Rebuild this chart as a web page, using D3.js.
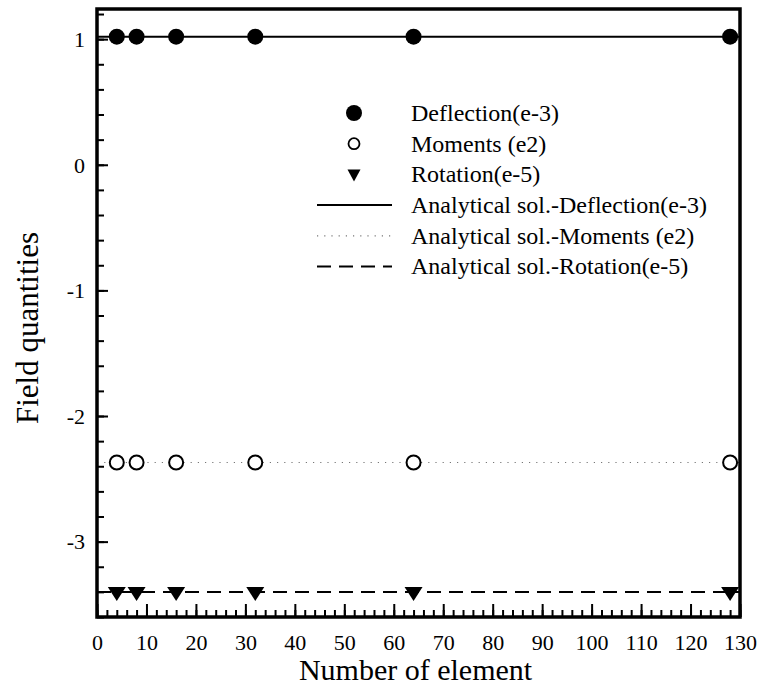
<!DOCTYPE html>
<html>
<head>
<meta charset="utf-8">
<script src="https://cdn.jsdelivr.net/npm/d3@7"></script>
<style>
  body { margin: 0; background: #fff; }
  svg { display: block; font-family: "Liberation Serif", "Times New Roman", serif; }
  svg text { font-family: "Liberation Serif", "Times New Roman", serif; }
</style>
</head>
<body>
<svg id="chart" width="760" height="690"></svg>
<script>
// Convergence of field quantities with mesh refinement
const elements   = [4, 8, 16, 32, 64, 128];
const deflection = [1.02, 1.02, 1.02, 1.02, 1.02, 1.02];
const moments    = [-2.37, -2.37, -2.37, -2.37, -2.37, -2.37];
const rotation   = [-3.4, -3.4, -3.4, -3.4, -3.4, -3.4];

// Analytical reference values drawn across the whole x-range
const analyticX          = [0, 130];
const analyticDeflection = [1.02, 1.02];
const analyticMoments    = [-2.37, -2.37];
const analyticRotation   = [-3.4, -3.4];

const xMajorTicks = [0, 10, 20, 30, 40, 50, 60, 70, 80, 90, 100, 110, 120, 130];
const yMajorTicks = [-3, -2, -1, 0, 1];

const legendLabels = [
  "Deflection(e-3)",
  "Moments (e2)",
  "Rotation(e-5)",
  "Analytical sol.-Deflection(e-3)",
  "Analytical sol.-Moments (e2)",
  "Analytical sol.-Rotation(e-5)"
];

const serif = "Liberation Serif, Times New Roman, serif";
const svg = d3.select("#chart");
const plotL = 97, plotR = 740, plotT = 9, plotB = 617;

const x = d3.scaleLinear().domain([0, 130]).range([plotL, plotR]);
const y = d3.scaleLinear().domain([-3.6, 1.24]).range([plotB, plotT]);

const xMinor = d3.range(0, 130.01, 2);
const yMinor = d3.range(-3.6, 1.24, 0.2).map(v => +v.toFixed(2));
const plainNum = d => String(d);   // hyphen-minus, as typeset on the plot

// Bottom axis: inward ticks
const gxMinor = svg.append("g").attr("transform", `translate(0,${plotB})`)
  .call(d3.axisBottom(x).tickValues(xMinor).tickSize(-7).tickFormat(""));
const gx = svg.append("g").attr("transform", `translate(0,${plotB})`)
  .call(d3.axisBottom(x).tickValues(xMajorTicks).tickSize(-13).tickPadding(0).tickFormat(plainNum));

// Left axis: inward ticks
const gyMinor = svg.append("g").attr("transform", `translate(${plotL},0)`)
  .call(d3.axisLeft(y).tickValues(yMinor).tickSize(-7).tickFormat(""));
const gy = svg.append("g").attr("transform", `translate(${plotL},0)`)
  .call(d3.axisLeft(y).tickValues(yMajorTicks).tickSize(-11).tickFormat(plainNum));

[gx, gxMinor, gy, gyMinor].forEach(g => {
  g.attr("font-family", serif).attr("font-size", 22);
  g.select(".domain").remove();
  g.selectAll(".tick line").attr("stroke", "#000").attr("stroke-width", 2);
});
gx.selectAll(".tick text")
  .attr("y", 33).attr("dy", 0).attr("fill", "#000");
gy.selectAll(".tick text")
  .attr("x", -12).attr("dy", "0.33em").attr("fill", "#000");

// Analytical lines
const line = d3.line().x(d => x(d[0])).y(d => y(d[1]));
svg.append("path")
  .datum(d3.zip(analyticX, analyticDeflection))
  .attr("d", line).attr("fill", "none").attr("stroke", "#000").attr("stroke-width", 2);
svg.append("path")
  .datum(d3.zip(analyticX, analyticMoments))
  .attr("d", line).attr("fill", "none").attr("stroke", "#777").attr("stroke-width", 1.2)
  .attr("stroke-dasharray", "1.2,6");
svg.append("path")
  .datum(d3.zip(analyticX, analyticRotation))
  .attr("d", line).attr("fill", "none").attr("stroke", "#000").attr("stroke-width", 2)
  .attr("stroke-dasharray", "14,8");

// Numerical results
svg.append("g").selectAll("circle")
  .data(d3.zip(elements, deflection)).join("circle")
  .attr("cx", d => x(d[0])).attr("cy", d => y(d[1])).attr("r", 8).attr("fill", "#000");
svg.append("g").selectAll("circle")
  .data(d3.zip(elements, moments)).join("circle")
  .attr("cx", d => x(d[0])).attr("cy", d => y(d[1])).attr("r", 7)
  .attr("fill", "#fff").attr("stroke", "#000").attr("stroke-width", 2);
// Downward triangles
function downTri(cx, cy, w, h) {
  return `M${cx - w / 2},${cy - h / 2}L${cx + w / 2},${cy - h / 2}L${cx},${cy + h / 2}Z`;
}
svg.append("g").selectAll("path")
  .data(d3.zip(elements, rotation)).join("path")
  .attr("d", d => downTri(x(d[0]), y(d[1]) + 2, 18, 14))
  .attr("fill", "#000");

// Plot frame
svg.append("rect")
  .attr("x", plotL).attr("y", plotT)
  .attr("width", plotR - plotL).attr("height", plotB - plotT)
  .attr("fill", "none").attr("stroke", "#000").attr("stroke-width", 3.5);

// Axis titles
svg.append("text")
  .attr("x", (plotL + plotR) / 2 - 3).attr("y", 680)
  .attr("text-anchor", "middle").attr("font-size", 30)
  .text("Number of element");
svg.append("text")
  .attr("transform", `translate(38,${328}) rotate(-90)`)
  .attr("text-anchor", "middle").attr("font-size", 31)
  .text("Field quantities");

// Legend
const legend = svg.append("g");
const lgX = 354, lgTextX = 411, lgY0 = 113, lgStep = 30.7;
legendLabels.forEach((label, i) => {
  const cy = lgY0 + i * lgStep;
  if (i === 0) legend.append("circle").attr("cx", lgX).attr("cy", cy).attr("r", 8).attr("fill", "#000");
  if (i === 1) legend.append("circle").attr("cx", lgX).attr("cy", cy).attr("r", 5.5)
    .attr("fill", "#fff").attr("stroke", "#000").attr("stroke-width", 1.8);
  if (i === 2) legend.append("path").attr("d", downTri(lgX, cy + 1, 13, 12)).attr("fill", "#000");
  if (i === 3) legend.append("line").attr("x1", 317).attr("x2", 392).attr("y1", cy).attr("y2", cy)
    .attr("stroke", "#000").attr("stroke-width", 2);
  if (i === 4) legend.append("line").attr("x1", 317).attr("x2", 392).attr("y1", cy).attr("y2", cy)
    .attr("stroke", "#777").attr("stroke-width", 1.2).attr("stroke-dasharray", "1.2,6");
  if (i === 5) legend.append("line").attr("x1", 317).attr("x2", 392).attr("y1", cy).attr("y2", cy)
    .attr("stroke", "#000").attr("stroke-width", 2).attr("stroke-dasharray", "14,8");
  legend.append("text")
    .attr("x", lgTextX).attr("y", cy).attr("dy", "0.33em")
    .attr("font-size", 24).text(label);
});
</script>
</body>
</html>
